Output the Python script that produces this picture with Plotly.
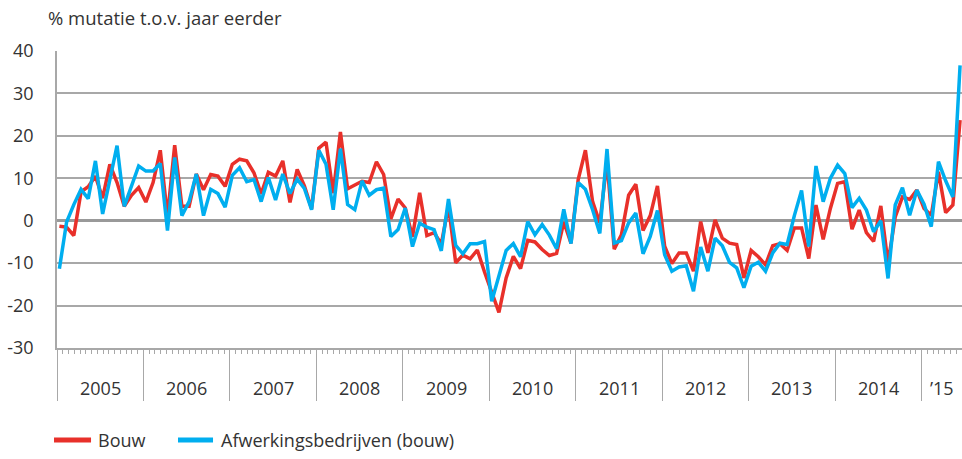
import plotly.graph_objects as go

# Monthly data, Jan 2005 - Jun 2015 (% change vs. a year earlier)
bouw = [
    -1.3, -1.5, -3.5, 6.8, 8.0, 10.5, 5.3, 13.3, 9.0, 3.4, 6.0, 7.8,
    4.4, 9.0, 16.6, 1.0, 17.8, 3.4, 3.4, 11.0, 7.3, 10.9, 10.5, 8.1,
    13.3, 14.5, 14.1, 11.3, 6.3, 11.4, 10.5, 14.1, 4.3, 12.1, 8.2, 2.8,
    17.1, 18.5, 6.5, 20.9, 7.5, 8.4, 9.3, 9.0, 13.9, 10.9, 0.4, 5.1,
    3.0, -3.8, 6.6, -3.5, -2.8, -5.5, 3.5, -9.9, -8.1, -9.0, -6.9, -12.1,
    -17.1, -21.6, -13.5, -8.4, -11.3, -4.6, -5.0, -6.8, -8.2, -7.7, -0.3, -5.3,
    9.7, 16.6, 4.5, -0.5, 14.0, -6.7, -3.3, 6.0, 8.6, -2.3, 1.2, 8.2,
    -6.0, -10.1, -7.6, -7.6, -11.9, -0.2, -7.6, 0.2, -4.1, -5.3, -5.6, -13.5,
    -7.0, -8.5, -10.4, -5.9, -5.4, -7.0, -1.7, -1.7, -8.9, 3.7, -4.4, 2.9,
    8.8, 9.2, -2.0, 2.5, -2.8, -4.9, 3.5, -10.0, 0.9, 5.6, 5.0, 7.2,
    2.9, 1.3, 11.5, 1.9, 3.7, 23.7,
]
afwerking = [
    -11.3, -0.3, 3.8, 7.4, 5.2, 14.1, 1.6, 9.5, 17.7, 3.4, 8.0, 12.9,
    11.7, 11.7, 13.5, -2.3, 14.9, 1.2, 4.5, 11.0, 1.2, 7.4, 6.4, 3.2,
    10.7, 12.5, 9.2, 9.7, 4.5, 10.2, 4.9, 11.0, 6.4, 9.8, 7.6, 2.6,
    16.6, 13.3, 2.6, 17.0, 3.8, 2.6, 9.4, 6.0, 7.3, 7.7, -3.7, -2.1,
    3.0, -6.1, -0.6, -1.5, -2.1, -7.1, 5.1, -5.8, -7.8, -5.4, -5.4, -4.9,
    -19.0, -12.8, -7.0, -5.4, -8.5, -0.2, -3.3, -0.9, -3.4, -6.6, 2.7, -5.4,
    9.0, 7.4, 2.6, -3.0, 16.9, -5.3, -4.7, -0.5, 1.8, -7.8, -3.7, 2.4,
    -8.0, -11.9, -10.9, -10.6, -16.6, -6.2, -11.9, -4.1, -5.9, -9.8, -11.1, -15.8,
    -10.7, -9.8, -11.9, -7.6, -5.3, -5.6, 1.2, 7.1, -6.1, 12.9, 4.5, 10.0,
    13.1, 11.1, 3.1, 5.3, 2.5, -2.6, 0.0, -13.6, 3.7, 7.8, 1.3, 7.2,
    3.9, -1.4, 13.9, 9.4, 5.6, 36.6,
]
year_labels = ["2005", "2006", "2007", "2008", "2009", "2010",
               "2011", "2012", "2013", "2014", "\u201915"]
y_ticks = [-30, -20, -10, 0, 10, 20, 30, 40]
series_names = ["Bouw", "Afwerkingsbedrijven (bouw)"]

# x position in months since Jan 2005 (plotted near start of each month)
x_pos = [i + 1 / 3 for i in range(len(bouw))]
x_max = 125.6

RED = "#E8302A"
BLUE = "#00AEEF"
GRID = "#A8A8A8"
FONT = "Open Sans"
TXT = "#333333"

fig = go.Figure()
fig.add_trace(go.Scatter(x=x_pos, y=bouw, mode="lines", name=series_names[0],
                         line=dict(color=RED, width=3.5), showlegend=False))
fig.add_trace(go.Scatter(x=x_pos, y=afwerking, mode="lines",
                         name=series_names[1],
                         line=dict(color=BLUE, width=3.5), showlegend=False))

# Year labels centred in each year segment
for j, lab in enumerate(year_labels):
    start = 12 * j
    end = min(12 * (j + 1), x_max)
    fig.add_annotation(x=(start + end) / 2, y=-0.135, xref="x", yref="paper",
                       text=lab, showarrow=False, xanchor="center",
                       yanchor="middle",
                       font=dict(family=FONT, size=18, color=TXT))

# Axis title (top-left)
fig.add_annotation(x=-0.012, y=1.114, xref="paper", yref="paper",
                   text="% mutatie t.o.v. jaar eerder", showarrow=False,
                   xanchor="left", yanchor="middle",
                   font=dict(family=FONT, size=18.5, color=TXT))

# Legend drawn below the chart
leg_items = [(series_names[0], RED, -0.0033, 0.0376, 0.043),
             (series_names[1], BLUE, 0.1337, 0.1724, 0.179)]
for name, col, x0, x1, xt in leg_items:
    fig.add_shape(type="line", xref="paper", yref="paper",
                  x0=x0, x1=x1, y0=-0.31, y1=-0.31,
                  line=dict(color=col, width=5))
    fig.add_annotation(x=xt, y=-0.31, xref="paper", yref="paper",
                       text=name, showarrow=False, xanchor="left",
                       yanchor="middle",
                       font=dict(family=FONT, size=18, color=TXT))

fig.update_layout(
    width=962, height=459,
    margin=dict(l=57, r=0, t=51, b=111, autoexpand=False),
    paper_bgcolor="white", plot_bgcolor="white",
    font=dict(family=FONT, size=18, color=TXT),
    showlegend=False,
    xaxis=dict(range=[0, x_max], tickmode="linear", tick0=0, dtick=12,
               ticks="outside", ticklen=51, tickwidth=1, tickcolor=GRID,
               showticklabels=False, showgrid=False, zeroline=False,
               showline=True, linecolor=GRID, linewidth=1.5,
               automargin=False,
               minor=dict(tickmode="linear", tick0=0, dtick=0.8,
                          ticks="outside", ticklen=4, tickwidth=1,
                          tickcolor=GRID, showgrid=False)),
    yaxis=dict(range=[-30, 40], tickmode="array", tickvals=y_ticks,
               ticktext=[str(v) for v in y_ticks],
               showgrid=True, gridcolor=GRID, gridwidth=1.5,
               zeroline=True, zerolinecolor="#999999", zerolinewidth=3,
               showline=True, linecolor=GRID, linewidth=1.5,
               ticks="", ticklabelstandoff=18, automargin=False,
               tickfont=dict(family=FONT, size=18, color=TXT)),
)

# remove the default 8px page margin so the figure fills the window exactly
fig.write_html(
    "out.html",
    config={"displayModeBar": False},
    post_script="document.body.style.margin='0px';"
                "document.body.style.overflow='hidden';",
)
